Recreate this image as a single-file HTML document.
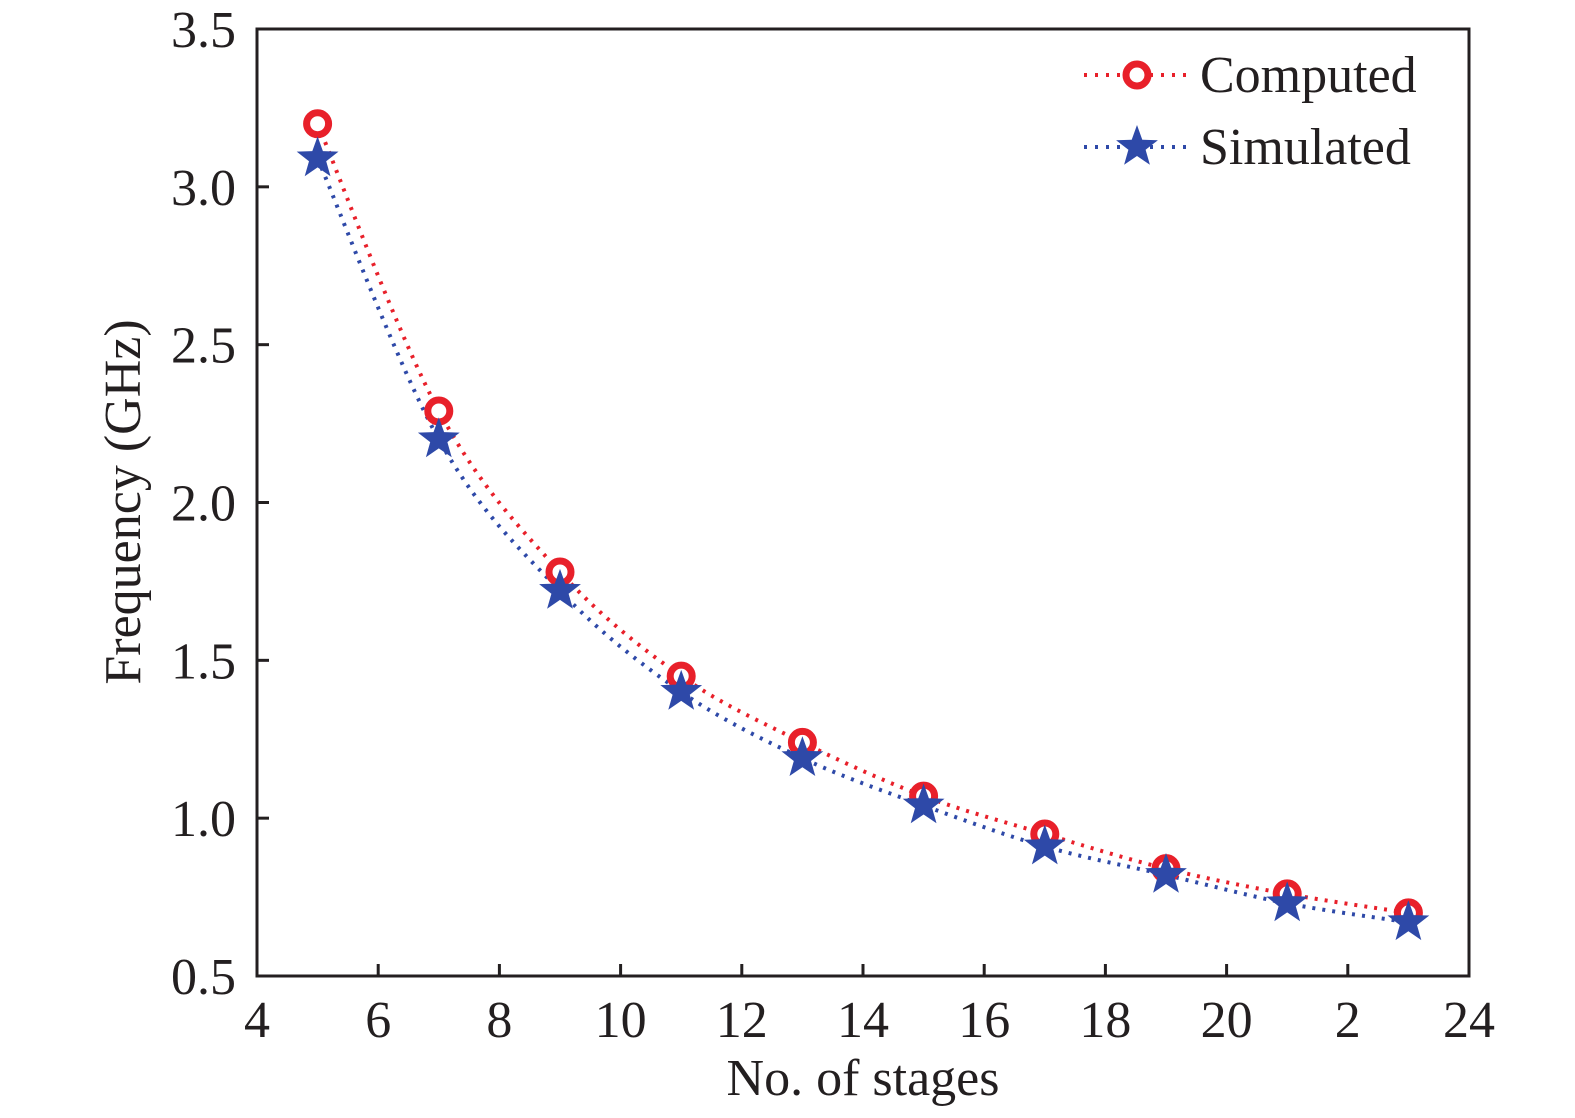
<!DOCTYPE html>
<html><head><meta charset="utf-8"><style>
body{margin:0;background:#fff;}
svg{display:block;font-family:"Liberation Serif",serif;}
</style></head><body>
<svg id="chart" width="1575" height="1118" viewBox="0 0 1575 1118" xmlns="http://www.w3.org/2000/svg">
<rect x="257" y="29" width="1212" height="947" fill="none" stroke="#231f20" stroke-width="3"/>
<g id="ticks"></g>
<g id="series"></g>
<text x="863" y="1095" font-size="52" text-anchor="middle" fill="#231f20">No. of stages</text>
<text transform="translate(140,502) rotate(-90)" font-size="52" text-anchor="middle" fill="#231f20">Frequency (GHz)</text>
<g>
<g>
<line x1="1084" y1="75" x2="1186" y2="75" stroke="#e8202a" stroke-width="4" stroke-dasharray="3 8"/>
<circle cx="1137" cy="75" r="11" fill="#fff" stroke="#e8202a" stroke-width="7"/>
<text x="1200" y="92" font-size="52" fill="#231f20">Computed</text>
</g>
<g>
<line x1="1084" y1="147" x2="1186" y2="147" stroke="#2e49a8" stroke-width="4" stroke-dasharray="3 8"/>
<polygon id="legstar" fill="#2e49a8"/>
<text x="1200" y="164" font-size="52" fill="#231f20">Simulated</text>
</g>
</g>
</svg>
<script>
const stages = [5,7,9,11,13,15,17,19,21,23];
const computed = [3.20,2.29,1.78,1.45,1.24,1.07,0.95,0.84,0.76,0.70];
const simulated = [3.09,2.20,1.72,1.40,1.19,1.04,0.91,0.82,0.73,0.67];
const xTicks = [4,6,8,10,12,14,16,18,20,22,24];
const xTickLabels = ["4","6","8","10","12","14","16","18","20","2","24"];
const yTicks = [0.5,1.0,1.5,2.0,2.5,3.0,3.5];
const yTickLabels = ["0.5","1.0","1.5","2.0","2.5","3.0","3.5"];

const NS="http://www.w3.org/2000/svg";
const X0=257,X1=1469,Y0=976,Y1=29;
function xs(v){return X0+(v-4)/(24-4)*(X1-X0);}
function ys(v){return Y0-(v-0.5)/(3.5-0.5)*(Y0-Y1);}
function mk(tag,attrs,parent){const e=document.createElementNS(NS,tag);for(const k in attrs)e.setAttribute(k,attrs[k]);parent.appendChild(e);return e;}
const tg=document.getElementById('ticks');
xTicks.forEach((t,i)=>{
  const x=xs(t);
  if(i>0&&i<xTicks.length-1){
    const l=mk('line',{x1:x,y1:Y0,x2:x,y2:Y0-12,stroke:'#231f20','stroke-width':3},tg);
    
    
  }
  const tx=mk('text',{x:x,y:1037,'font-size':52,'text-anchor':'middle',fill:'#231f20'},tg);
  tx.textContent=xTickLabels[i];
  
  
});
yTicks.forEach((t,i)=>{
  const y=ys(t);
  if(i>0&&i<yTicks.length-1){
    const l=mk('line',{x1:X0,y1:y,x2:X0+12,y2:y,stroke:'#231f20','stroke-width':3},tg);
    
    
  }
  const tx=mk('text',{x:236,y:y+18,'font-size':52,'text-anchor':'end',fill:'#231f20'},tg);
  tx.textContent=yTickLabels[i];
  
  
});
function smooth(pts){
  let d='M'+pts[0][0]+','+pts[0][1];
  for(let i=0;i<pts.length-1;i++){
    const p0=pts[Math.max(0,i-1)],p1=pts[i],p2=pts[i+1],p3=pts[Math.min(pts.length-1,i+2)];
    const c1=[p1[0]+(p2[0]-p0[0])/6,p1[1]+(p2[1]-p0[1])/6];
    const c2=[p2[0]-(p3[0]-p1[0])/6,p2[1]-(p3[1]-p1[1])/6];
    d+=' C'+c1+' '+c2+' '+p2;
  }
  return d;
}
function starPts(cx,cy,R,r){
  const a=[];for(let k=0;k<10;k++){const ang=-Math.PI/2+k*Math.PI/5;const rr=k%2?r:R;a.push((cx+rr*Math.cos(ang)).toFixed(1)+','+(cy+rr*Math.sin(ang)).toFixed(1));}
  return a.join(' ');
}
const sg=document.getElementById('series');
const cp=stages.map((s,i)=>[xs(s),ys(computed[i])]);
const sp=stages.map((s,i)=>[xs(s),ys(simulated[i])]);
const lc=mk('path',{d:smooth(cp),fill:'none',stroke:'#e8202a','stroke-width':4,'stroke-dasharray':'3 7'},sg);


const ls=mk('path',{d:smooth(sp),fill:'none',stroke:'#2e49a8','stroke-width':4,'stroke-dasharray':'3 7'},sg);


cp.forEach(p=>{
  const c=mk('circle',{cx:p[0],cy:p[1],r:11,fill:'#fff',stroke:'#e8202a','stroke-width':7},sg);
  
  
});
sp.forEach(p=>{
  const s=mk('polygon',{points:starPts(p[0],p[1],22,9),fill:'#2e49a8'},sg);
  
  
});
document.getElementById('legstar').setAttribute('points',starPts(1137,147,22,9));
</script>
</body></html>
